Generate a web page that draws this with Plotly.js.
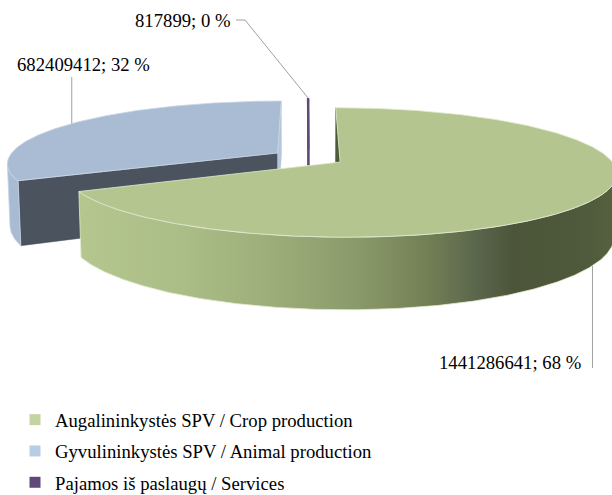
<!DOCTYPE html>
<html>
<head>
<meta charset="utf-8">
<script src="https://cdn.plot.ly/plotly-3.0.1.min.js"></script>
<style>html,body{margin:0;padding:0;background:#fff;}#chart{width:612px;height:495px;}</style>
</head>
<body>
<div id="chart"></div>
<script>
// ---- data ----
const categories = ['Augalininkystės SPV / Crop production', 'Gyvulininkystės SPV / Animal production', 'Pajamos iš paslaugų / Services'];
const values = [1441286641, 682409412, 817899];

// ---- style ----
const topColors = ['#B4C58F', '#A9BCD4', '#5F4A7B'];
const legendColors = ['#C3D4A2', '#B8CCE4', '#5F497A'];
const startFaceColors = ['#4F5A3A', '#4A535E', '#5F4A7B'];
const endFaceColors = ['#4F5A3A', '#B5C5DA', '#5F4A7B'];
const sideColors = ['#9AAB78', '#A8BBD3', '#5F4A7B'];
const edgeColors = ['#E2EACF', '#C9D6E6', '#5F4A7B'];
const FONT = 'Liberation Serif, Times New Roman, serif';
const FS = 18.7;

// projection parameters (pixel-space axes)
const P = {cx: 308.5, cy: 157.5, f: 1650, D: 6.13, sa: 0.229, e: 0.137, h: 0.235};
P.ca = Math.sqrt(1 - P.sa * P.sa);
const deg = Math.PI / 180;

function proj(X, Y, Z) {
  const depth = P.D - Y * P.sa - Z * P.ca;
  const v = Y * P.ca - Z * P.sa;
  return [P.cx + P.f * X / depth, P.cy - P.f * v / depth];
}

const total = values.reduce((a, b) => a + b, 0);
let cum = 0;
const slices = values.map(v => {
  const s = cum / total * 360; cum += v; const e = cum / total * 360; const m = (s + e) / 2;
  return {s, e, m, ox: P.e * Math.sin(m * deg), oz: -P.e * Math.cos(m * deg), pct: v / total * 100};
});

function rim(sl, phi, Y) { return proj(sl.ox + Math.sin(phi * deg), Y, sl.oz - Math.cos(phi * deg)); }
function apex(sl, Y) { return proj(sl.ox, Y, sl.oz); }
function arc(sl, a, b, Y) {
  const n = Math.max(2, Math.ceil(Math.abs(b - a) / 0.5));
  const pts = [];
  for (let k = 0; k <= n; k++) pts.push(rim(sl, a + (b - a) * k / n, Y));
  return pts;
}
function face(pts, fill, line, lw, extra) {
  const xs = pts.map(p => p[0]), ys = pts.map(p => p[1]);
  xs.push(xs[0]); ys.push(ys[0]);
  return Object.assign({type: 'scatter', mode: 'lines', x: xs, y: ys, fill: 'toself', fillcolor: fill,
    line: {color: line, width: lw}, hoverinfo: 'skip', showlegend: false}, extra || {});
}
const camZ = P.D * P.ca;
function cutVisible(sl, phi, isStart) {
  let nx = Math.cos(phi * deg), nz = Math.sin(phi * deg);
  if (isStart) { nx = -nx; nz = -nz; }
  return nx * (0 - sl.ox) + nz * (camZ - sl.oz) > 0;
}
function sideRange(sl) {
  let lo = null, hi = null;
  for (let phi = sl.s; phi <= sl.e + 1e-9; phi += 0.05) {
    const nx = Math.sin(phi * deg), nz = -Math.cos(phi * deg);
    const px = sl.ox + nx, pz = sl.oz + nz;
    if (nx * (0 - px) + nz * (camZ - pz) > 0) { if (lo === null) lo = phi; hi = phi; }
  }
  return lo === null ? null : [lo, hi];
}

const traces = [];
// legend entries
categories.forEach((c, i) => traces.push({type: 'scatter', mode: 'markers', x: [null], y: [null], name: c,
  legendgroup: 'g' + i, marker: {symbol: 'square', size: 11, color: legendColors[i]}, hoverinfo: 'skip'}));

const order = [1, 2, 0];
order.forEach(i => {
  const sl = slices[i];
  const thin = i === 2;
  const lw = thin ? 2 : 0.8;
  // cut faces
  [[sl.s, true], [sl.e, false]].forEach(([phi, isStart]) => {
    if (!cutVisible(sl, phi, isStart)) return;
    const pts = [apex(sl, 0), rim(sl, phi, 0), rim(sl, phi, -P.h), apex(sl, -P.h)];
    const col = isStart ? startFaceColors[i] : endFaceColors[i];
    traces.push(face(pts, col, col, thin ? 2 : 0.5));
  });
  // curved side
  const r = sideRange(sl);
  if (r) {
    const top = arc(sl, r[0], r[1], 0), bot = arc(sl, r[1], r[0], -P.h);
    const pts = top.concat(bot);
    const extra = {};
    if (i === 0) {
      const xs = pts.map(p => p[0]);
      extra.fillgradient = {type: 'horizontal', start: Math.min(...xs), stop: Math.max(...xs),
        colorscale: [[0, '#B5C78F'], [0.2, '#ABBD86'], [0.38, '#9AAB78'], [0.52, '#8A9969'],
                     [0.65, '#727F55'], [0.75, '#58634A'], [0.81, '#4C5539'], [0.92, '#4E583B'], [1, '#56613F']]};
    }
    traces.push(face(pts, sideColors[i], edgeColors[i], lw, extra));
  }
  // top face
  const tpts = [apex(sl, 0)].concat(arc(sl, sl.s, sl.e, 0));
  traces.push(face(tpts, topColors[i], edgeColors[i], lw));
});

// leader lines + labels
const labelText = i => values[i] + '; ' + Math.round(slices[i].pct) + ' %';
const pG = rim(slices[0], slices[0].m, -P.h);
const pB = rim(slices[1], slices[1].m, 0);
const pS = rim(slices[2], slices[2].m, 0);
const labelPos = [{x: 583, y: 362, xa: 'right'}, {x: 15, y: 64, xa: 'left'}, {x: 233, y: 20, xa: 'right'}];
const leaders = [
  [[pG[0], pG[1]], [pG[0], 368]],
  [[pB[0], pB[1]], [pB[0], 77]],
  [[pS[0], pS[1]], [245, 20], [236, 20]]
];
leaders.forEach(L => traces.push({type: 'scatter', mode: 'lines', x: L.map(p => p[0]), y: L.map(p => p[1]),
  line: {color: '#A0A0A0', width: 1}, hoverinfo: 'skip', showlegend: false}));

const annotations = labelPos.map((lp, i) => ({x: lp.x, y: lp.y, xref: 'x', yref: 'y', xanchor: lp.xa, yanchor: 'middle',
  text: labelText(i), showarrow: false, font: {family: FONT, size: FS, color: '#000'}}));

const layout = {
  width: 612, height: 495,
  margin: {l: 0, r: 0, t: 0, b: 0, autoexpand: false},
  paper_bgcolor: '#fff', plot_bgcolor: '#fff',
  xaxis: {range: [0, 612], visible: false, fixedrange: true},
  yaxis: {range: [495, 0], visible: false, fixedrange: true},
  showlegend: true,
  legend: {x: 15 / 612, y: 1 - 401 / 495, xanchor: 'left', yanchor: 'top', bgcolor: 'rgba(0,0,0,0)',
    font: {family: FONT, size: FS, color: '#000'}, tracegroupgap: 4, traceorder: 'grouped'},
  annotations: annotations
};
Plotly.newPlot('chart', traces, layout, {staticPlot: true, displayModeBar: false});
</script>
</body>
</html>
